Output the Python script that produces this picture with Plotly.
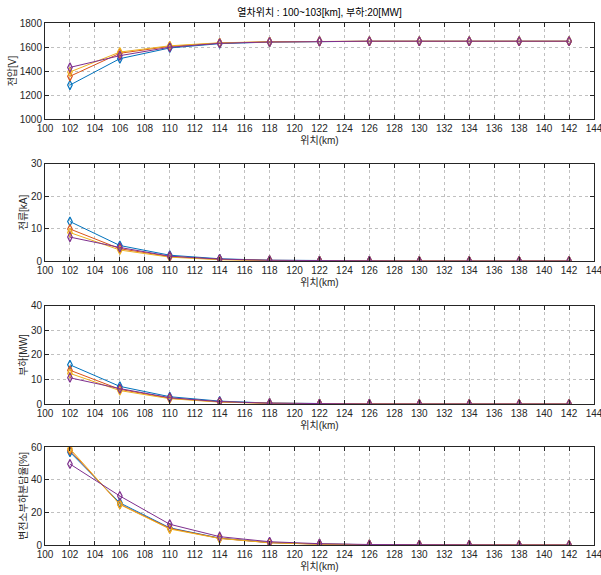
import plotly.graph_objects as go

positions = [102, 106, 110, 114, 118, 122, 126, 130, 134, 138, 142]
series_names = ["100km", "101km", "102km", "103km"]
colors = ["#0072BD", "#D95319", "#EDB120", "#7E2F8E"]

voltage = [
    [1283, 1503, 1592, 1628, 1641, 1647, 1648, 1648, 1648, 1648, 1648],
    [1356, 1548, 1605, 1633, 1643, 1647, 1648, 1648, 1648, 1648, 1648],
    [1392, 1558, 1610, 1635, 1644, 1648, 1648, 1648, 1648, 1648, 1648],
    [1430, 1528, 1598, 1631, 1642, 1647, 1648, 1648, 1648, 1648, 1648],
]
current = [
    [12.2, 4.8, 1.8, 0.7, 0.25, 0.1, 0.04, 0.02, 0.01, 0.01, 0.01],
    [9.9, 3.8, 1.4, 0.5, 0.2, 0.08, 0.03, 0.01, 0.01, 0.01, 0.01],
    [8.8, 3.4, 1.2, 0.4, 0.15, 0.06, 0.02, 0.01, 0.01, 0.01, 0.01],
    [7.4, 4.2, 1.5, 0.6, 0.22, 0.09, 0.03, 0.01, 0.01, 0.01, 0.01],
]
power = [
    [16.0, 7.2, 3.0, 1.2, 0.4, 0.15, 0.06, 0.03, 0.02, 0.01, 0.01],
    [13.8, 6.0, 2.4, 0.9, 0.33, 0.12, 0.05, 0.02, 0.01, 0.01, 0.01],
    [12.5, 5.5, 2.2, 0.8, 0.3, 0.11, 0.04, 0.02, 0.01, 0.01, 0.01],
    [10.7, 6.3, 2.6, 1.0, 0.36, 0.13, 0.05, 0.02, 0.01, 0.01, 0.01],
]
share = [
    [56.9, 25.8, 10.5, 4.2, 1.5, 0.6, 0.2, 0.1, 0.05, 0.02, 0.01],
    [58.0, 25.0, 10.2, 4.1, 1.4, 0.5, 0.2, 0.1, 0.05, 0.02, 0.01],
    [59.0, 24.8, 9.8, 4.0, 1.4, 0.5, 0.2, 0.1, 0.05, 0.02, 0.01],
    [49.6, 30.0, 12.7, 5.1, 2.0, 0.8, 0.3, 0.1, 0.05, 0.02, 0.01],
]

y_titles = ["전압[V]", "전류[kA]", "부하[MW]", "변전소부하분담율[%]"]
y_ranges = [[1000, 1800], [0, 30], [0, 40], [0, 60]]
y_dticks = [200, 10, 10, 20]
domains = [[0.816, 1.0], [0.544, 0.730], [0.270, 0.458], [0.0, 0.1877]]
x_ticks = list(range(100, 146, 2))

fig = go.Figure()
datasets = [voltage, current, power, share]
for r, data in enumerate(datasets):
    ax = "" if r == 0 else str(r + 1)
    for i, vals in enumerate(data):
        fig.add_trace(go.Scatter(
            x=positions, y=vals, mode="lines+markers", name=series_names[i],
            line=dict(color=colors[i], width=1),
            marker=dict(symbol="diamond-tall-open", size=6.5, color=colors[i], line=dict(width=1.2, color=colors[i])),
            xaxis="x" + ax, yaxis="y" + ax, showlegend=False,
        ))

axis_font = dict(family="Liberation Sans, Arial, Noto Sans CJK KR", size=10, color="#262626")
layout = dict(
    width=601, height=575,
    margin=dict(l=45, r=7, t=23, b=30, autoexpand=False),
    paper_bgcolor="white", plot_bgcolor="white",
    font=axis_font,
    title=dict(text="열차위치 : 100~103[km], 부하:20[MW]", x=0.5, xanchor="center", xref="paper",
               y=1 - 12 / 575, yref="container", yanchor="middle", automargin=False,
               font=dict(family="Liberation Sans, Noto Sans CJK KR", size=10, color="#000000")),
)
for r in range(4):
    ax = "" if r == 0 else str(r + 1)
    layout["xaxis" + ax] = dict(
        domain=[0, 1], anchor="y" + ax, range=[100, 144], tickvals=x_ticks,
        showline=True, linecolor="#262626", linewidth=1, mirror="ticks",
        ticks="inside", ticklen=4, tickcolor="#262626",
        showgrid=True, gridcolor="#c0c0c0", griddash="dot", gridwidth=1,
        zeroline=False, tickfont=axis_font, automargin=False, ticklabeloverflow="allow",
        title=dict(text="위치(km)", standoff=3, font=axis_font),
    )
    layout["yaxis" + ax] = dict(
        domain=domains[r], anchor="x" + ax, range=y_ranges[r], dtick=y_dticks[r],
        showline=True, linecolor="#262626", linewidth=1, mirror="ticks",
        ticks="inside", ticklen=4, tickcolor="#262626",
        showgrid=True, gridcolor="#c0c0c0", griddash="dot", gridwidth=1,
        zeroline=False, tickfont=axis_font, automargin=False, ticklabeloverflow="allow",
        title=dict(text=y_titles[r], standoff=1, font=axis_font),
    )
fig.update_layout(**layout)
fig.write_html("out.html", config={"displayModeBar": False},
               post_script="document.body.style.margin='0';")
